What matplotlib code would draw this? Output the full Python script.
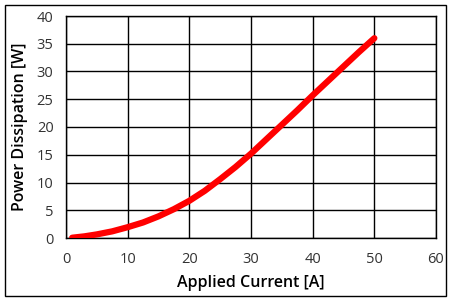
import matplotlib
matplotlib.use("Agg")
import matplotlib.pyplot as plt
from matplotlib.patches import Rectangle

current = [1, 3, 5, 7.5, 10, 12.5, 15, 17.5, 20, 22.5, 25, 27.5, 30, 32.5, 35, 37.5, 40, 42.5, 45, 47.5, 50]
power = [0.05, 0.3, 0.65, 1.2, 1.95, 2.8, 3.9, 5.2, 6.7, 8.5, 10.6, 12.8, 15.2, 17.8, 20.4, 23.0, 25.7, 28.3, 30.9, 33.5, 36.0]

x_ticks = [0, 10, 20, 30, 40, 50, 60]
y_ticks = [0, 5, 10, 15, 20, 25, 30, 35, 40]
x_label = "Applied Current [A]"
y_label = "Power Dissipation [W]"

plt.rcParams['font.family'] = ['Open Sans', 'DejaVu Sans']

fig = plt.figure(figsize=(4.55, 3.04), dpi=100)
fig.patch.set_facecolor("white")
fig.patches.append(Rectangle((5/455, 1-296/304), 441/455, 291/304, transform=fig.transFigure,
                             fill=False, edgecolor="black", linewidth=1.0))

ax = fig.add_axes([66/455, 1-238/304, 370/455, 222/304])
ax.plot(current, power, color="#ff0000", linewidth=4.5, solid_capstyle="round", zorder=3)
ax.set_xlim(0, 60)
ax.set_ylim(0, 40)
ax.set_xticks(x_ticks)
ax.set_yticks(y_ticks)
ax.grid(True, color="black", linewidth=1.0)
ax.set_axisbelow(True)
for s in ax.spines.values():
    s.set_color("black")
    s.set_linewidth(1.0)
ax.tick_params(length=0, labelsize=10.5, colors="#333333", pad=9)
ax.tick_params(axis="x", pad=10)
ax.set_xlabel(x_label, fontsize=11.5, fontweight="semibold", labelpad=6)
ax.set_ylabel(y_label, fontsize=11.5, fontweight="semibold", labelpad=6)

fig.savefig("out.png", dpi=100)
